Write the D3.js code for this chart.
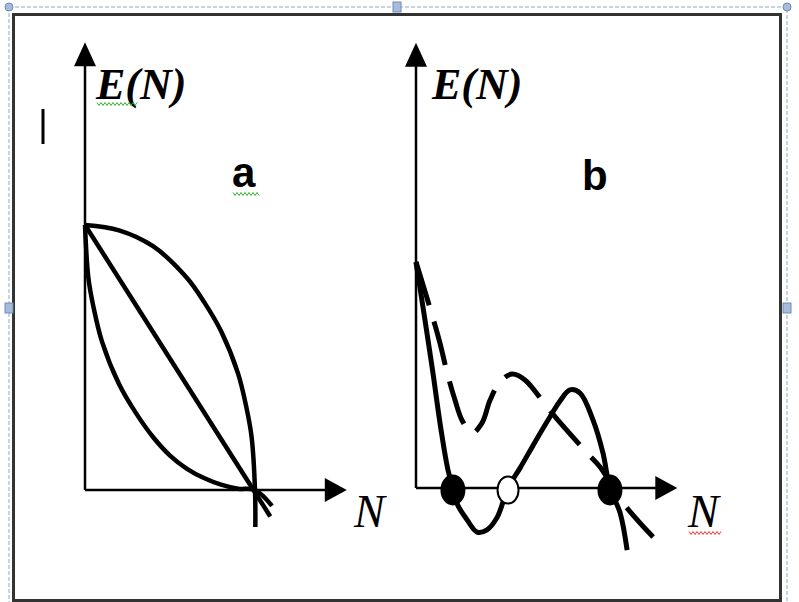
<!DOCTYPE html>
<html>
<head>
<meta charset="utf-8">
<script src="https://d3js.org/d3.v7.min.js"></script>
<style>
  body { margin: 0; background: #fff; }
  svg { display: block; }
</style>
</head>
<body>
<script>
// Panel a: three decreasing E(N) curves, all from E(0)=1 to E(1)=0
var concaveN = [0, 0.2, 0.4, 0.6, 0.7, 0.8, 0.9, 0.95, 0.98, 1, 1.002];
var concaveE = [1, 0.98, 0.92, 0.8, 0.71, 0.6, 0.44, 0.31, 0.2, 0, -0.14];

var linearN = [0, 1.09];
var linearE = [1, -0.1];

var convexN = [0, 0.02, 0.05, 0.1, 0.2, 0.3, 0.4, 0.5, 0.6, 0.7, 0.8, 0.9, 1, 1.1];
var convexE = [1, 0.8, 0.69, 0.56, 0.4, 0.29, 0.2, 0.13, 0.08, 0.045, 0.02, 0.005, 0, -0.06];

// Panel b: solid curve with three roots, dashed curve with one
var solidN = [0, 0.35, 0.65, 0.96, 1.23, 1.42, 1.58, 1.96, 2.35, 2.73, 3.12, 3.54, 4.0, 4.58, 5.15, 5.54, 5.92, 6.31, 6.81, 7.19, 7.46, 7.85, 8.12];
var solidE = [10, 7.4, 5.1, 2.6, 0.8, 0, -0.7, -1.4, -1.95, -1.85, -1.3, 0, 0.88, 2.04, 3.14, 3.85, 4.34, 4.2, 3.0, 1.55, 0, -1.1, -2.75];

var dashN = [0, 0.54, 0.92, 1.19, 1.5, 1.77, 2.15, 2.54, 2.85, 3.23, 3.69, 4.19, 5.04, 5.46, 6.58, 7.08, 7.96, 9.12];
var dashE = [10, 7.96, 6.42, 5.13, 3.89, 3.0, 2.43, 2.88, 3.89, 4.69, 5.04, 4.78, 3.58, 3.0, 1.55, 0.93, -0.66, -2.17];

var rootN = [1.42, 3.54, 7.46];
var rootStable = [true, false, true];

var panelLabels = ["a", "b"];
var axisLabelY = "E(N)";
var axisLabelX = "N";

var width = 799, height = 602;

var svg = d3.select("body").append("svg")
  .attr("width", width)
  .attr("height", height);

function zip(xs, ys) {
  return xs.map(function(x, i) { return [x, ys[i]]; });
}

// selection frame of the embedded drawing
var handleBlue = "#8ea6cc";
svg.append("rect")
  .attr("x", 9).attr("y", 7)
  .attr("width", 778).attr("height", 610)
  .attr("fill", "none")
  .attr("stroke", handleBlue)
  .attr("stroke-width", 1)
  .attr("stroke-dasharray", "4,2");

svg.append("rect")
  .attr("x", 13.5).attr("y", 14.5)
  .attr("width", 767).attr("height", 586)
  .attr("fill", "#fff")
  .attr("stroke", "#333")
  .attr("stroke-width", 3);

[[9, 7], [787, 7]].forEach(function(p) {
  svg.append("circle")
    .attr("cx", p[0]).attr("cy", p[1]).attr("r", 4)
    .attr("fill", "#a9bbdb").attr("stroke", "#6f8bbd");
});
[[397, 7], [9, 308], [787, 308]].forEach(function(p) {
  svg.append("rect")
    .attr("x", p[0] - 4).attr("y", p[1] - 5)
    .attr("width", 8).attr("height", 10)
    .attr("fill", "#a9bbdb").attr("stroke", "#6f8bbd");
});

// text cursor
svg.append("line")
  .attr("x1", 43).attr("x2", 43)
  .attr("y1", 109).attr("y2", 144)
  .attr("stroke", "#000").attr("stroke-width", 3);

function squiggle(x0, x1, y, color) {
  var pts = [];
  for (var x = x0, k = 0; x <= x1; x += 2, k++) pts.push([x, y + (k % 2 ? 1.5 : -1.5)]);
  svg.append("path")
    .attr("d", d3.line()(pts))
    .attr("fill", "none").attr("stroke", color).attr("stroke-width", 1);
}

function drawAxes(x, y, nMax, eMax, yLabelX, nLabelX) {
  var x0 = x(0), y0 = y(0), xt = x(nMax), yt = y(eMax);
  var g = svg.append("g");
  g.append("line")
    .attr("x1", x0).attr("y1", y0)
    .attr("x2", x0).attr("y2", yt + 22)
    .attr("stroke", "#000").attr("stroke-width", 2.5);
  g.append("path")
    .attr("d", "M" + x0 + "," + yt + "L" + (x0 - 11) + "," + (yt + 24) + "L" + (x0 + 11) + "," + (yt + 24) + "Z")
    .attr("fill", "#000");
  g.append("line")
    .attr("x1", x0).attr("y1", y0)
    .attr("x2", xt - 20).attr("y2", y0)
    .attr("stroke", "#000").attr("stroke-width", 2.5);
  g.append("path")
    .attr("d", "M" + xt + "," + y0 + "L" + (xt - 22) + "," + (y0 - 12) + "L" + (xt - 22) + "," + (y0 + 12) + "Z")
    .attr("fill", "#000");

  g.append("text")
    .attr("x", yLabelX).attr("y", 99)
    .attr("font-family", "'Liberation Serif', 'Times New Roman', serif")
    .attr("font-style", "italic").attr("font-weight", "bold")
    .attr("font-size", 44)
    .text(axisLabelY);
  g.append("text")
    .attr("x", nLabelX).attr("y", 527)
    .attr("font-family", "'Liberation Serif', 'Times New Roman', serif")
    .attr("font-style", "italic")
    .attr("font-size", 46)
    .text(axisLabelX);
}

function panelLabel(txt, xPos, yPos) {
  svg.append("text")
    .attr("x", xPos).attr("y", yPos)
    .attr("font-family", "'Liberation Sans', Arial, sans-serif")
    .attr("font-weight", "bold")
    .attr("font-size", 42)
    .text(txt);
}

// ---- panel a ----
var xA = d3.scaleLinear().domain([0, 1]).range([85, 255]);
var yA = d3.scaleLinear().domain([0, 1]).range([490, 225]);

drawAxes(xA, yA, 1.54, 1.69, 96, 354);
squiggle(97, 138, 104, "#3a3");
panelLabel(panelLabels[0], 232, 187);
squiggle(233, 260, 194, "#3a3");

var lineA = d3.line()
  .x(function(d) { return xA(d[0]); })
  .y(function(d) { return yA(d[1]); })
  .curve(d3.curveCatmullRom.alpha(0.5));

[zip(concaveN, concaveE), zip(linearN, linearE), zip(convexN, convexE)].forEach(function(pts) {
  svg.append("path")
    .attr("d", lineA(pts))
    .attr("fill", "none")
    .attr("stroke", "#000")
    .attr("stroke-width", 4.5)
    .attr("stroke-linecap", "butt");
});

// ---- panel b ----
var xB = d3.scaleLinear().domain([0, 10]).range([416, 676]);
var yB = d3.scaleLinear().domain([0, 10]).range([488, 262]);

drawAxes(xB, yB, 10.05, 19.7, 432, 688);
squiggle(689, 721, 533, "#e33");
panelLabel(panelLabels[1], 582, 190);

var lineB = d3.line()
  .x(function(d) { return xB(d[0]); })
  .y(function(d) { return yB(d[1]); })
  .curve(d3.curveCatmullRom.alpha(0.5));

svg.append("path")
  .attr("d", lineB(zip(dashN, dashE)))
  .attr("fill", "none")
  .attr("stroke", "#000")
  .attr("stroke-width", 5)
  .attr("stroke-dasharray", "45,17");

svg.append("path")
  .attr("d", lineB(zip(solidN, solidE)))
  .attr("fill", "none")
  .attr("stroke", "#000")
  .attr("stroke-width", 5);

svg.selectAll(".root")
  .data(rootN)
  .enter()
  .append("ellipse")
  .attr("class", "root")
  .attr("cx", function(d) { return xB(d); })
  .attr("cy", yB(0) + 2)
  .attr("rx", function(d, i) { return rootStable[i] ? 11.5 : 10.5; })
  .attr("ry", function(d, i) { return rootStable[i] ? 14.5 : 13.5; })
  .attr("fill", function(d, i) { return rootStable[i] ? "#000" : "#fff"; })
  .attr("stroke", "#000")
  .attr("stroke-width", 2);
</script>
</body>
</html>
